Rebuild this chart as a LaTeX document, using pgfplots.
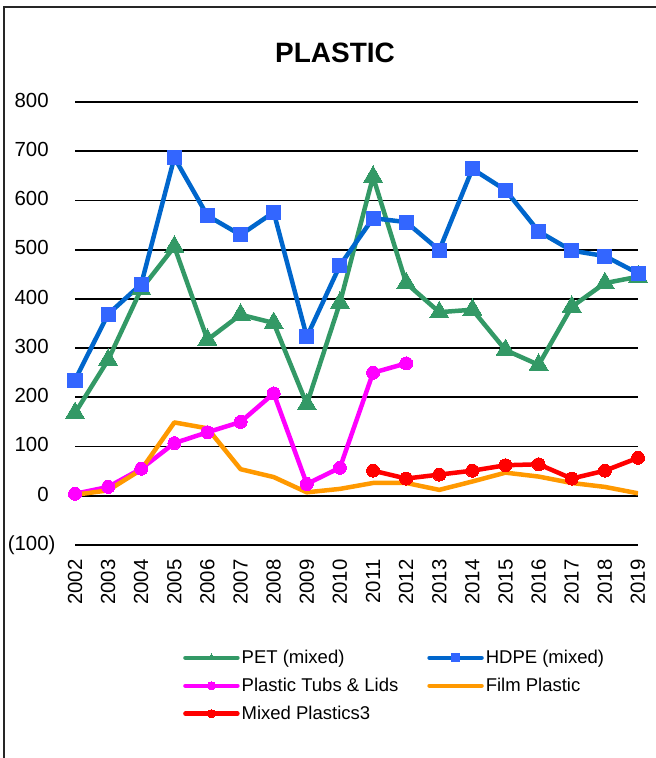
\documentclass[border=0pt]{standalone}
\usepackage{fontspec}
\setmainfont{Liberation Sans}
\usepackage{pgfplots}
\pgfplotsset{compat=1.18}

\definecolor{petgreen}{HTML}{339966}
\definecolor{hdpeline}{HTML}{0066CC}
\definecolor{hdpemark}{HTML}{3366FF}
\definecolor{tubs}{HTML}{FF00FF}
\definecolor{film}{HTML}{FF9900}
\definecolor{mixed}{HTML}{FF0000}

\begin{document}
\begin{tikzpicture}
	\useasboundingbox (0pt,0pt) rectangle (656pt,758pt);
	% chart frame (only left and top edges are in view)
	\draw[line width=2pt, black!85] (3.5pt,-50pt) -- (3.5pt,750.5pt) -- (700pt,750.5pt);
	\node[anchor=base, font=\fontsize{28}{32}\selectfont\bfseries] at (335pt,695pt) {PLASTIC};

	\begin{axis}[
			at={(75pt,213pt)}, anchor=south west,
			scale only axis,
			width=563pt, height=443pt,
			xmin=2002, xmax=2019,
			ymin=-100, ymax=800,
			xtick={2002,...,2019},
			xticklabels={2002,2003,2004,2005,2006,2007,2008,2009,2010,2011,2012,2013,2014,2015,2016,2017,2018,2019},
			ytick={-100,0,...,800},
			yticklabels={(100),0\phantom{)},100\phantom{)},200\phantom{)},300\phantom{)},400\phantom{)},500\phantom{)},600\phantom{)},700\phantom{)},800\phantom{)}},
			/pgf/number format/assume math mode=true,
			tick label style={font=\fontsize{20.4}{24}\selectfont},
			x tick label style={rotate=90, anchor=east, xshift=-11pt},
			y tick label style={anchor=east, xshift=-16pt},
			axis line style={draw=none},
			tick style={draw=none},
			ymajorgrids,
			major grid style={black, line width=1.8pt},
			every axis plot/.append style={line width=4.5pt, line join=round},
			legend columns=2,
			legend cell align=left,
			legend image code/.code={
				\draw[mark repeat=2, mark phase=2, #1, line cap=round, mark size=4pt]
				plot coordinates {(0pt,0pt) (26pt,0pt) (52pt,0pt)};
			},
			legend style={
				draw=none, fill=none,
				at={(0.1918,-0.233)}, anchor=north west,
				inner sep=0pt,
				font=\fontsize{18.5}{22}\selectfont,
				row sep=9pt,
				nodes={inner sep=2pt},
				/tikz/every even column/.append style={column sep=27pt},
			},
		]

		\addplot[color=petgreen, mark=triangle*, mark size=11pt,
			mark options={fill=petgreen, draw=petgreen, line width=0pt}] coordinates {
			(2002,168) (2003,276) (2004,420) (2005,506) (2006,317) (2007,368)
			(2008,351) (2009,186) (2010,392) (2011,648) (2012,432) (2013,373)
			(2014,378) (2015,296) (2016,266) (2017,384) (2018,432) (2019,445)
		};
		\addlegendentry{PET (mixed)}

		\addplot[color=hdpeline, mark=square*, mark size=7pt,
			mark options={fill=hdpemark, draw=hdpemark, line width=0pt}] coordinates {
			(2002,235) (2003,369) (2004,430) (2005,687) (2006,569) (2007,530)
			(2008,576) (2009,323) (2010,468) (2011,564) (2012,556) (2013,499)
			(2014,664) (2015,621) (2016,537) (2017,498) (2018,487) (2019,452)
		};
		\addlegendentry{HDPE (mixed)}

		\addplot[color=tubs, mark=*, mark size=6.5pt,
			mark options={fill=tubs, draw=tubs, line width=0pt}] coordinates {
			(2002,4) (2003,18) (2004,55) (2005,107) (2006,129) (2007,150)
			(2008,208) (2009,24) (2010,57) (2011,250) (2012,269)
		};
		\addlegendentry{Plastic Tubs \& Lids}

		\addplot[color=film] coordinates {
			(2002,2) (2003,11) (2004,53) (2005,149) (2006,137) (2007,54)
			(2008,38) (2009,7) (2010,14) (2011,26) (2012,26) (2013,12)
			(2014,29) (2015,47) (2016,39) (2017,26) (2018,18) (2019,5)
		};
		\addlegendentry{Film Plastic}

		\addplot[color=mixed, mark=*, mark size=6.5pt,
			mark options={fill=mixed, draw=mixed, line width=0pt}] coordinates {
			(2011,51) (2012,35) (2013,43) (2014,51) (2015,62) (2016,64)
			(2017,35) (2018,51) (2019,77)
		};
		\addlegendentry{Mixed Plastics3}
	\end{axis}
\end{tikzpicture}
\end{document}
